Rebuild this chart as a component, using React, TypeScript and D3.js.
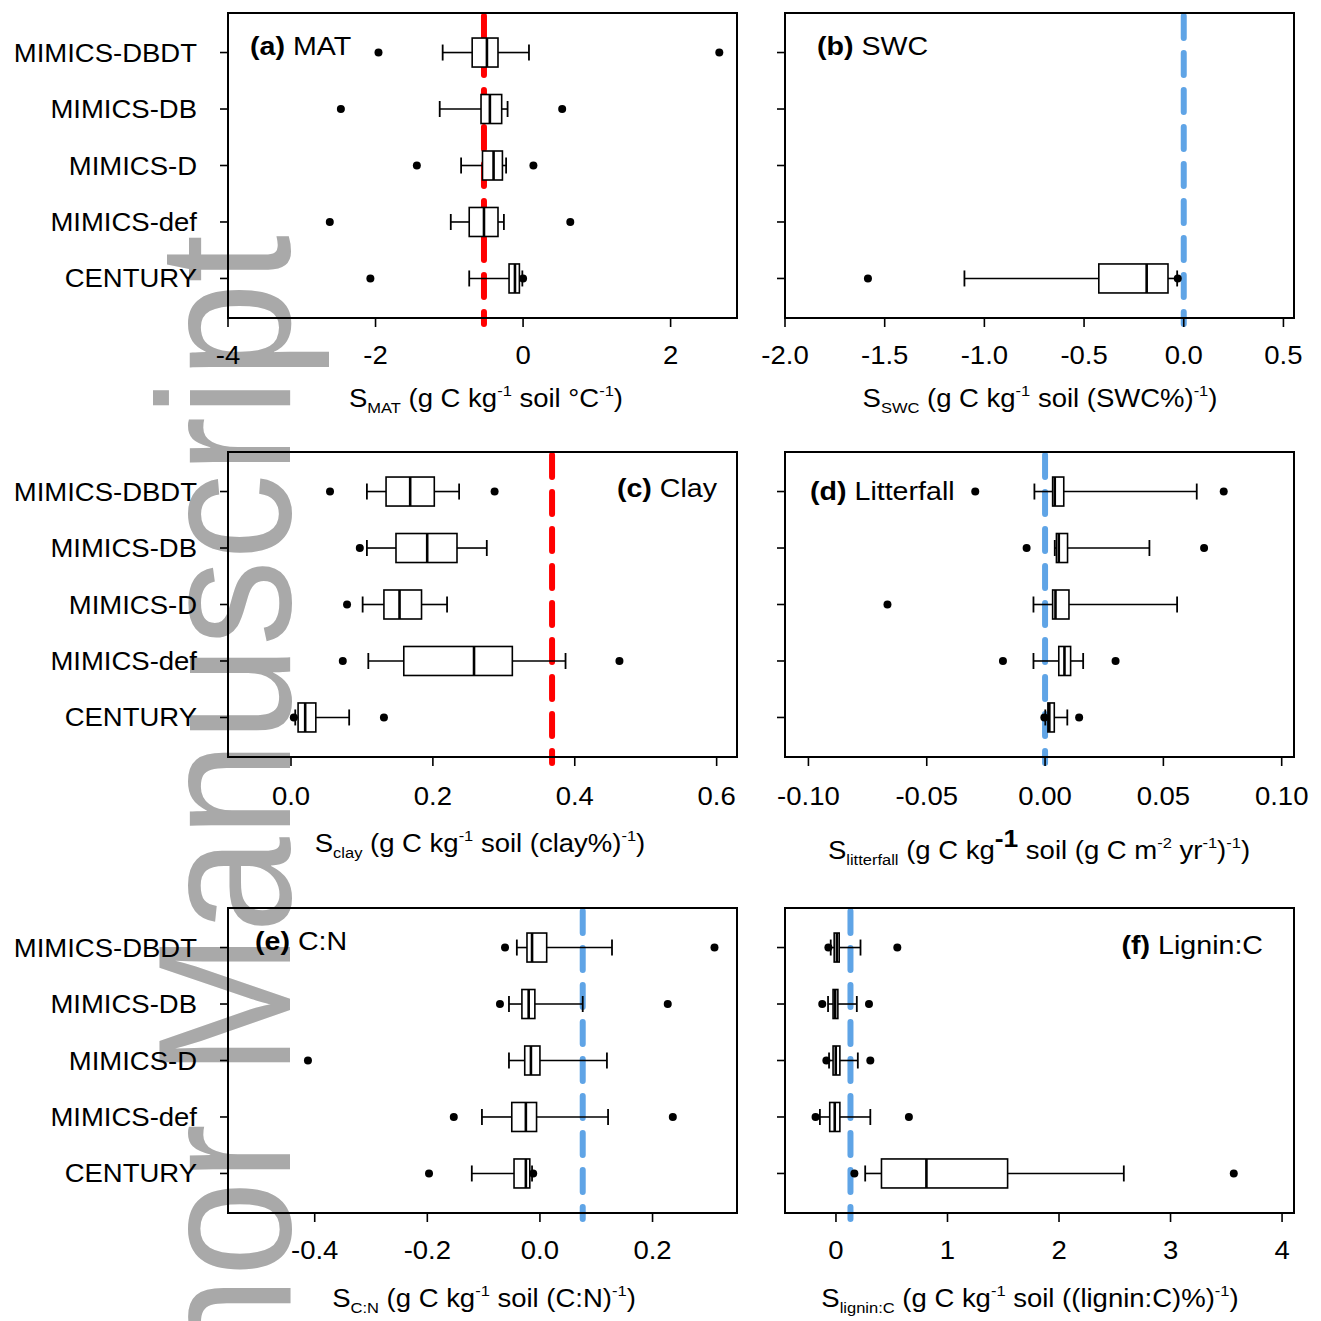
import React from "react";
import * as d3 from "d3";

const models = ["MIMICS-DBDT", "MIMICS-DB", "MIMICS-D", "MIMICS-def", "CENTURY"];

// [lower whisker, Q1, median, Q3, upper whisker] per model
const matStats = [
  [-1.09, -0.69, -0.49, -0.34, 0.08],
  [-1.13, -0.57, -0.45, -0.29, -0.21],
  [-0.84, -0.55, -0.4, -0.28, -0.23],
  [-0.98, -0.73, -0.53, -0.34, -0.26],
  [-0.73, -0.19, -0.11, -0.05, -0.01],
];
const matOutliers = [[-1.96, 2.66], [-2.47, 0.53], [-1.44, 0.14], [-2.62, 0.64], [-2.07, 0.0]];

const swcStats = [null, null, null, null, [-1.1, -0.426, -0.186, -0.079, -0.033]];
const swcOutliers = [[], [], [], [], [-1.584, -0.03]];

const clayStats = [
  [0.107, 0.134, 0.168, 0.202, 0.237],
  [0.107, 0.148, 0.192, 0.234, 0.276],
  [0.101, 0.131, 0.153, 0.184, 0.22],
  [0.109, 0.159, 0.258, 0.312, 0.387],
  [0.006, 0.01, 0.02, 0.035, 0.082],
];
const clayOutliers = [[0.055, 0.287], [0.097], [0.079], [0.073, 0.463], [0.004, 0.131]];

const litterStats = [
  [-0.0045, 0.0032, 0.0041, 0.0079, 0.0641],
  [0.0041, 0.0048, 0.0058, 0.0095, 0.0441],
  [-0.0049, 0.0032, 0.0044, 0.0101, 0.0558],
  [-0.0049, 0.0058, 0.0082, 0.0108, 0.0161],
  [0.0001, 0.0012, 0.0018, 0.0039, 0.0094],
];
const litterOutliers = [[-0.0295, 0.0755], [-0.0078, 0.0672], [-0.0666], [-0.0178, 0.0298], [-0.0003, 0.0144]];

const cnStats = [
  [-0.041, -0.023, -0.014, 0.012, 0.128],
  [-0.055, -0.032, -0.02, -0.009, 0.076],
  [-0.055, -0.027, -0.016, 0.0, 0.119],
  [-0.103, -0.05, -0.025, -0.006, 0.121],
  [-0.121, -0.046, -0.025, -0.018, -0.014],
];
const cnOutliers = [[-0.062, 0.31], [-0.071, 0.227], [-0.412], [-0.153, 0.236], [-0.197, -0.012]];

const ligninStats = [
  [-0.047, -0.016, 0.008, 0.029, 0.22],
  [-0.071, -0.026, -0.007, 0.017, 0.187],
  [-0.062, -0.026, -0.002, 0.035, 0.196],
  [-0.144, -0.056, -0.011, 0.035, 0.308],
  [0.262, 0.408, 0.811, 1.539, 2.581],
];
const ligninOutliers = [[-0.068, 0.55], [-0.123, 0.296], [-0.086, 0.308], [-0.183, 0.654], [0.165, 3.567]];

const matTicks = [-4, -2, 0, 2];
const swcTicks = [-2.0, -1.5, -1.0, -0.5, 0.0, 0.5];
const clayTicks = [0.0, 0.2, 0.4, 0.6];
const litterTicks = [-0.1, -0.05, 0.0, 0.05, 0.1];
const cnTicks = [-0.4, -0.2, 0.0, 0.2];
const ligninTicks = [0, 1, 2, 3, 4];

const RED = "#ff0000";
const BLUE = "#5fa4e6";
const FONT = "Arial, 'Liberation Sans', sans-serif";
const SX = 1.1; // the original figure is stretched horizontally a bit

type Seg = { t: string; k?: "sub" | "sup" | "bigsup" };

function Title({ cx, y, segs }: { cx: number; y: number; segs: Seg[] }) {
  let shift = 0;
  return (
    <text transform={`translate(${cx},${y}) scale(${SX},1)`} textAnchor="middle" fontSize={25} fontFamily={FONT}>
      {segs.map((s, i) => {
        const target = s.k === "sub" ? 6 : s.k === "sup" ? -11 : s.k === "bigsup" ? -12 : 0;
        const dy = target - shift;
        shift = target;
        const fs = s.k === "sub" || s.k === "sup" ? 15 : s.k === "bigsup" ? 24 : 25;
        return (
          <tspan key={i} dy={dy} fontSize={fs} fontWeight={s.k === "bigsup" ? "bold" : "normal"}>
            {s.t}
          </tspan>
        );
      })}
    </text>
  );
}

type PanelProps = {
  x0: number;
  x1: number;
  y0: number;
  y1: number;
  domain: [number, number];
  ticks: number[];
  fmt: (v: number) => string;
  stats: (number[] | null)[];
  outliers: number[][];
  refValue: number;
  refColor: string;
  tag: string;
  name: string;
  labelX: number;
  labelAnchor: "start" | "end";
  labelY: number;
  yLabels: boolean;
  tickY: number;
};

function Panel(p: PanelProps) {
  const x = d3.scaleLinear().domain(p.domain).range([p.x0, p.x1]);
  const y = d3.scalePoint<string>().domain(models).range([p.y0, p.y1]).padding(0.7);
  const hb = 14.5;
  const hc = 8;
  return (
    <g>
      {/* reference line */}
      <line
        x1={x(p.refValue)}
        x2={x(p.refValue)}
        y1={p.y0 + 3}
        y2={p.y1 + 6}
        stroke={p.refColor}
        strokeWidth={6}
        strokeDasharray="22 15"
        strokeLinecap="round"
      />
      {models.map((m, i) => {
        const cy = y(m) as number;
        const s = p.stats[i];
        return (
          <g key={m}>
            {s && (
              <g stroke="#000" fill="none">
                <line x1={x(s[0])} x2={x(s[1])} y1={cy} y2={cy} strokeWidth={1.6} />
                <line x1={x(s[3])} x2={x(s[4])} y1={cy} y2={cy} strokeWidth={1.6} />
                <line x1={x(s[0])} x2={x(s[0])} y1={cy - hc} y2={cy + hc} strokeWidth={1.8} />
                <line x1={x(s[4])} x2={x(s[4])} y1={cy - hc} y2={cy + hc} strokeWidth={1.8} />
                <rect
                  x={x(s[1])}
                  y={cy - hb}
                  width={Math.max(1, x(s[3]) - x(s[1]))}
                  height={hb * 2}
                  fill="#fff"
                  strokeWidth={1.6}
                />
                <line x1={x(s[2])} x2={x(s[2])} y1={cy - hb} y2={cy + hb} strokeWidth={2.6} />
              </g>
            )}
            {p.outliers[i].map((v, j) => (
              <circle key={j} cx={x(v)} cy={cy} r={4} fill="#000" />
            ))}
            <line x1={p.x0 - 8} x2={p.x0} y1={cy} y2={cy} stroke="#000" strokeWidth={1.6} />
            {p.yLabels && (
              <text
                transform={`translate(197,${cy + 9}) scale(${SX},1)`}
                textAnchor="end"
                fontSize={25}
                fontFamily={FONT}
              >
                {m}
              </text>
            )}
          </g>
        );
      })}
      <rect x={p.x0} y={p.y0} width={p.x1 - p.x0} height={p.y1 - p.y0} fill="none" stroke="#000" strokeWidth={2} />
      {p.ticks.map((t) => (
        <g key={t}>
          <line x1={x(t)} x2={x(t)} y1={p.y1} y2={p.y1 + 9} stroke="#000" strokeWidth={1.6} />
          <text
            transform={`translate(${x(t)},${p.tickY}) scale(${SX},1)`}
            textAnchor="middle"
            fontSize={25}
            fontFamily={FONT}
          >
            {p.fmt(t)}
          </text>
        </g>
      ))}
      <text
        transform={`translate(${p.labelX},${p.labelY}) scale(${SX},1)`}
        textAnchor={p.labelAnchor}
        fontSize={26}
        fontFamily={FONT}
      >
        <tspan fontWeight="bold">{p.tag}</tspan>
        <tspan> {p.name}</tspan>
      </text>
    </g>
  );
}

const f0 = d3.format(".0f");
const f1 = d3.format(".1f");
const f2 = d3.format(".2f");
const hy = (f: (v: number) => string) => (v: number) => f(v).replace("−", "-");

export default function App() {
  const L = { x0: 228, x1: 737 };
  const R = { x0: 785, x1: 1294 };
  const r1 = { y0: 13, y1: 318, tickY: 364 };
  const r2 = { y0: 452, y1: 757, tickY: 805 };
  const r3 = { y0: 908, y1: 1213, tickY: 1259 };
  return (
    <svg width={1321} height={1321} style={{ display: "block", position: "absolute", left: 0, top: 0 }}>
      <rect width={1321} height={1321} fill="#fff" />
      {/* watermark, runs off the bottom of the page as in the original */}
      <text
        transform={`translate(290,235) scale(${SX},1) rotate(-90)`}
        textAnchor="end"
        fontSize={172}
        fontFamily={FONT}
        fill="#a9a9a9"
      >
        Author Manuscript
      </text>

      <Panel {...L} {...r1} domain={[-4.0, 2.9]} ticks={matTicks} fmt={hy(f0)} stats={matStats} outliers={matOutliers}
        refValue={-0.53} refColor={RED} tag="(a)" name="MAT" labelX={250} labelAnchor="start" labelY={55} yLabels />
      <Panel {...R} {...r1} domain={[-2.0, 0.553]} ticks={swcTicks} fmt={hy(f1)} stats={swcStats} outliers={swcOutliers}
        refValue={0.0} refColor={BLUE} tag="(b)" name="SWC" labelX={817} labelAnchor="start" labelY={55} yLabels={false} />
      <Panel {...L} {...r2} domain={[-0.0888, 0.6287]} ticks={clayTicks} fmt={hy(f1)} stats={clayStats} outliers={clayOutliers}
        refValue={0.368} refColor={RED} tag="(c)" name="Clay" labelX={717} labelAnchor="end" labelY={497} yLabels />
      <Panel {...R} {...r2} domain={[-0.1099, 0.1052]} ticks={litterTicks} fmt={hy(f2)} stats={litterStats} outliers={litterOutliers}
        refValue={0.0} refColor={BLUE} tag="(d)" name="Litterfall" labelX={810} labelAnchor="start" labelY={500} yLabels={false} />
      <Panel {...L} {...r3} domain={[-0.554, 0.35]} ticks={cnTicks} fmt={hy(f1)} stats={cnStats} outliers={cnOutliers}
        refValue={0.076} refColor={BLUE} tag="(e)" name="C:N" labelX={255} labelAnchor="start" labelY={950} yLabels />
      <Panel {...R} {...r3} domain={[-0.457, 4.107]} ticks={ligninTicks} fmt={hy(f0)} stats={ligninStats} outliers={ligninOutliers}
        refValue={0.13} refColor={BLUE} tag="(f)" name="Lignin:C" labelX={1263} labelAnchor="end" labelY={954} yLabels={false} />

      <Title cx={486} y={407} segs={[{ t: "S" }, { t: "MAT", k: "sub" }, { t: " (g C kg" }, { t: "-1", k: "sup" }, { t: " soil °C" }, { t: "-1", k: "sup" }, { t: ")" }]} />
      <Title cx={1040} y={407} segs={[{ t: "S" }, { t: "SWC", k: "sub" }, { t: " (g C kg" }, { t: "-1", k: "sup" }, { t: " soil (SWC%)" }, { t: "-1", k: "sup" }, { t: ")" }]} />
      <Title cx={480} y={852} segs={[{ t: "S" }, { t: "clay", k: "sub" }, { t: " (g C kg" }, { t: "-1", k: "sup" }, { t: " soil (clay%)" }, { t: "-1", k: "sup" }, { t: ")" }]} />
      <Title cx={1039} y={859} segs={[{ t: "S" }, { t: "litterfall", k: "sub" }, { t: "  (g C kg" }, { t: "-1", k: "bigsup" }, { t: " soil (g C m" }, { t: "-2", k: "sup" }, { t: " yr" }, { t: "-1", k: "sup" }, { t: ")" }, { t: "-1", k: "sup" }, { t: ")" }]} />
      <Title cx={484} y={1307} segs={[{ t: "S" }, { t: "C:N", k: "sub" }, { t: " (g C kg" }, { t: "-1", k: "sup" }, { t: " soil (C:N)" }, { t: "-1", k: "sup" }, { t: ")" }]} />
      <Title cx={1030} y={1307} segs={[{ t: "S" }, { t: "lignin:C", k: "sub" }, { t: " (g C kg" }, { t: "-1", k: "sup" }, { t: " soil ((lignin:C)%)" }, { t: "-1", k: "sup" }, { t: ")" }]} />
    </svg>
  );
}
